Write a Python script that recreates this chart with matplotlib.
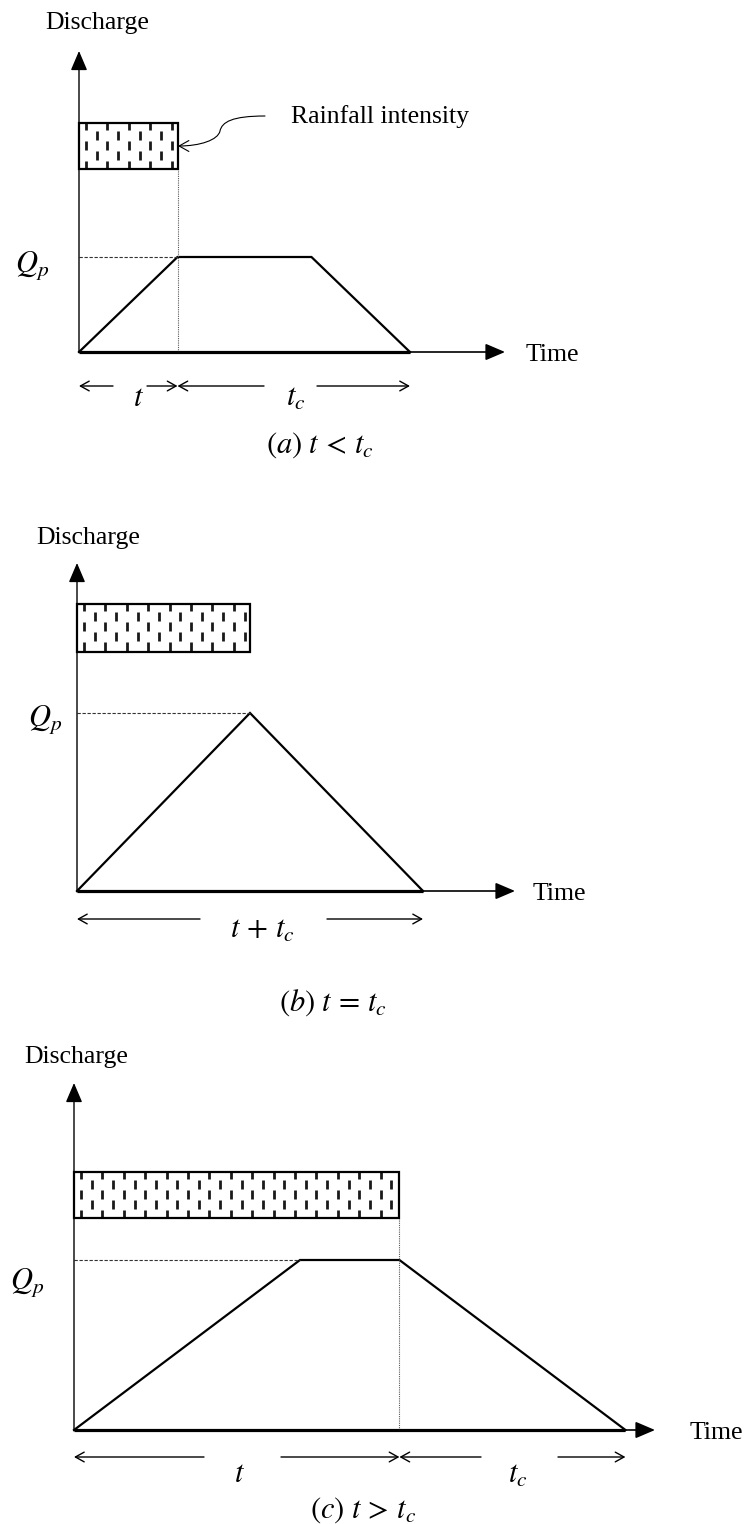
import numpy as np
import matplotlib
matplotlib.use("Agg")
import matplotlib.pyplot as plt
from matplotlib.patches import Rectangle, FancyArrowPatch
from matplotlib.path import Path
from matplotlib.collections import LineCollection

plt.rcParams["font.family"] = ["Liberation Serif", "DejaVu Serif"]
plt.rcParams["mathtext.fontset"] = "stix"

W, H = 750, 1524

# hydrograph shapes: time in units of the shorter duration, discharge in units of Qp
a_t, a_tc = 1.0, 2.36
a_time = [0.0, a_t, a_tc, a_t + a_tc]
a_q = [0.0, 1.0, 1.0, 0.0]
a_rain = (1.93, 2.41)          # bottom / top of the rainfall block

b_t, b_tc = 1.0, 1.0
b_time = [0.0, b_t, b_t + b_tc]
b_q = [0.0, 1.0, 0.0]
b_rain = (1.34, 1.61)

c_t, c_tc = 1.44, 1.0
c_time = [0.0, c_tc, c_t, c_t + c_tc]
c_q = [0.0, 1.0, 1.0, 0.0]
c_rain = (1.25, 1.52)

a_dims = [("$t$", 0.0, a_t), ("$t_c$", a_t, a_t + a_tc)]
b_dims = [("$t\\,+\\,t_c$", 0.0, b_t + b_tc)]
c_dims = [("$t$", 0.0, c_t), ("$t_c$", c_t, c_t + c_tc)]
captions = [r"$(a)\ t\,<\,t_c$", r"$(b)\ t\,=\,t_c$", r"$(c)\ t\,>\,t_c$"]

# page layout in pixels
LAY_A = dict(origin=(79, 352), scale=(98.5, 95), ytip=51, xtip=505, time_x=526,
             discharge=(97, 23), qp=(32, 266), arrow_y=386, label_y=398,
             caption=(320, 445), gaps=[(113, 147, 139), (264, 317, 296)])
LAY_B = dict(origin=(77, 891), scale=(173, 178), ytip=563, xtip=515, time_x=533,
             discharge=(88, 538), qp=(45, 719), arrow_y=919, label_y=930,
             caption=(333, 1003), gaps=[(200, 327, 263)])
LAY_C = dict(origin=(74, 1430), scale=(226, 170), ytip=1083, xtip=655, time_x=690,
             discharge=(76, 1057), qp=(27, 1282), arrow_y=1457, label_y=1475,
             caption=(363, 1510), gaps=[(204, 281, 240), (481, 558, 518)])

TXT = 18.5
MATH = 22

fig = plt.figure(figsize=(W / 100, H / 100), dpi=100)


def panel(lay, time, q, t_rain, rain, dims, caption, dotted):
    ox, oy = lay["origin"]
    sx, sy = lay["scale"]
    ax = fig.add_axes([ox / W, 1 - oy / H, sx / W, sy / H])
    ax.set_xlim(0, 1); ax.set_ylim(0, 1); ax.axis("off")
    X = lambda px: (px - ox) / sx
    Y = lambda py: (oy - py) / sy
    kw = dict(clip_on=False)

    # axes with arrow heads
    head = "-|>,head_length=0.75,head_width=0.32"
    ax.annotate("", xy=(0, Y(lay["ytip"])), xytext=(0, -0.004), annotation_clip=False,
                arrowprops=dict(arrowstyle=head, lw=1.0, color="k", shrinkA=0, shrinkB=0,
                                mutation_scale=16))
    ax.annotate("", xy=(X(lay["xtip"]), 0), xytext=(0, 0), annotation_clip=False,
                arrowprops=dict(arrowstyle=head, lw=1.2, color="k", shrinkA=0, shrinkB=0,
                                mutation_scale=16))
    ax.plot([0, time[-1]], [0, 0], color="k", lw=2.3, solid_capstyle="butt", **kw)
    ax.plot(time, q, color="k", lw=1.6, solid_joinstyle="miter", **kw)

    # Qp guide up to the first peak point
    ipk = q.index(max(q))
    ax.plot([0, time[ipk]], [q[ipk], q[ipk]], color="0.2", lw=0.8, ls=(0, (3, 1.5)), **kw)

    # rainfall block with staggered dash fill
    ax.add_patch(Rectangle((0, rain[0]), t_rain, rain[1] - rain[0], fill=False,
                           ec="k", lw=1.6, clip_on=False, zorder=3))
    left, right = ox, ox + t_rain * sx
    top, bot = oy - rain[1] * sy, oy - rain[0] * sy
    segs = []
    for j, xc in enumerate(np.arange(left + 7, right - 1, 10.7)):
        for y0 in np.arange(top - 20 + (j % 2) * 10 - 2, bot, 20):
            y1 = y0 + 9
            a, b = max(y0, top), min(y1, bot)
            if b > a:
                segs.append([(X(xc), Y(a)), (X(xc), Y(b))])
    ax.add_collection(LineCollection(segs, colors="0.1", linewidths=2.0, clip_on=False,
                                     capstyle="butt"))

    if dotted:
        ax.plot([t_rain, t_rain], [0, rain[0]], color="0.35", lw=0.8, ls=(0, (1, 1)), **kw)

    # duration arrows split around their labels
    ay = Y(lay["arrow_y"])
    dim_arrow = dict(arrowstyle="->,head_length=0.45,head_width=0.25", lw=1.0, color="k",
                     shrinkA=0, shrinkB=0, mutation_scale=14)
    for (lab, x0, x1), (g0, g1, gc) in zip(dims, lay["gaps"]):
        ax.annotate("", xy=(x0, ay), xytext=(X(g0), ay), annotation_clip=False,
                    arrowprops=dim_arrow)
        ax.annotate("", xy=(x1, ay), xytext=(X(g1), ay), annotation_clip=False,
                    arrowprops=dim_arrow)
        ax.text(X(gc), Y(lay["label_y"]), lab, fontsize=MATH, ha="center", va="center")

    ax.text(X(lay["time_x"]), Y(oy + 3), "Time", fontsize=TXT, ha="left", va="center")
    ax.text(X(lay["discharge"][0]), Y(lay["discharge"][1]), "Discharge", fontsize=TXT,
            ha="center", va="center")
    ax.text(X(lay["qp"][0]), Y(lay["qp"][1]), "$Q_p$", fontsize=MATH, ha="center",
            va="center")
    ax.text(X(lay["caption"][0]), Y(lay["caption"][1]), caption, fontsize=MATH,
            ha="center", va="center")
    return ax


panel(LAY_A, a_time, a_q, a_t, a_rain, a_dims, captions[0], True)
panel(LAY_B, b_time, b_q, b_t, b_rain, b_dims, captions[1], False)
panel(LAY_C, c_time, c_q, c_t, c_rain, c_dims, captions[2], True)

# rainfall label with its curved pointer
fig.text(291 / W, 1 - 117 / H, "Rainfall intensity", fontsize=TXT, ha="left", va="center")
pts = [(265, 116), (232, 116), (222, 122), (220, 131), (218, 140), (200, 146), (178, 146)]
verts = [(x / W, 1 - y / H) for x, y in pts]
codes = [Path.MOVETO] + [Path.CURVE4] * 6
fig.add_artist(FancyArrowPatch(path=Path(verts, codes), transform=fig.transFigure,
                               arrowstyle="->,head_length=0.5,head_width=0.28",
                               mutation_scale=14, lw=0.8, color="k"))

fig.savefig("out.png", dpi=100)
